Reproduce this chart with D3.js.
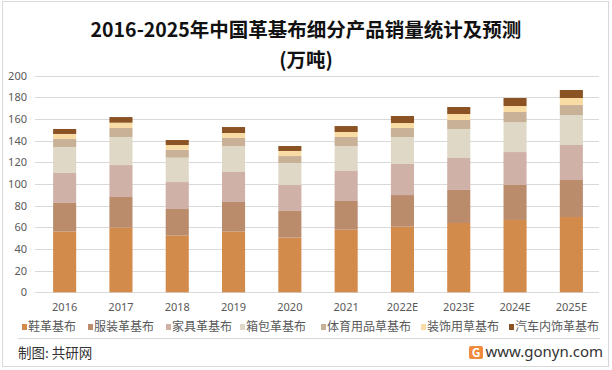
<!DOCTYPE html>
<html>
<head>
<meta charset="utf-8">
<script src="https://cdn.jsdelivr.net/npm/d3@7"></script>
<style>
  body { margin: 0; background: #fff; }
  svg { display: block; font-family: "Noto Sans CJK SC", "Noto Sans", sans-serif; }
</style>
</head>
<body>
<svg id="chart" width="612" height="370"></svg>
<script>
// categories and series
const years = ["2016", "2017", "2018", "2019", "2020", "2021", "2022E", "2023E", "2024E", "2025E"];
const seriesNames = ["鞋革基布", "服装革基布", "家具革基布", "箱包革基布", "体育用品草基布", "装饰用草基布", "汽车内饰革基布"];
const shoe      = [56.0, 59.7, 52.3, 56.0, 50.5, 57.8, 60.6, 64.0, 66.8, 69.5];
const clothing  = [26.5, 28.3, 24.6, 27.4, 24.6, 26.5, 29.2, 30.5, 32.3, 34.2];
const furniture = [27.7, 29.5, 24.9, 27.7, 24.0, 27.7, 28.7, 29.5, 30.4, 32.3];
const bags      = [24.0, 25.9, 22.5, 24.0, 20.3, 23.1, 24.9, 26.8, 27.7, 27.7];
const sports    = [7.3, 8.3, 7.4, 7.4, 6.4, 8.3, 8.3, 8.3, 9.3, 9.2];
const decor     = [4.7, 4.9, 4.3, 4.6, 4.7, 4.6, 4.6, 5.5, 5.5, 6.5];
const auto      = [4.6, 5.2, 4.6, 5.5, 4.6, 5.5, 6.5, 6.5, 7.4, 7.4];
const yTicks = [0, 20, 40, 60, 80, 100, 120, 140, 160, 180, 200];
const colors = ["#D38B4C", "#BA8C6C", "#D0B1A7", "#DFD8C6", "#C8B196", "#F9DCA5", "#8B5224"];

const seriesValues = [shoe, clothing, furniture, bags, sports, decor, auto];
const table = years.map((y, i) => {
  const row = { year: y };
  seriesNames.forEach((n, k) => row[n] = seriesValues[k][i]);
  return row;
});

const svg = d3.select("#chart");

// outer frame
svg.append("rect").attr("x", 2.5).attr("y", 1.5).attr("width", 606).attr("height", 365)
  .attr("fill", "#fff").attr("stroke", "#d9d9d9");

// title
svg.append("text").attr("x", 306).attr("y", 37).attr("text-anchor", "middle")
  .attr("font-size", 19.5).attr("font-weight", "bold").attr("fill", "#111")
  .text("2016-2025年中国革基布细分产品销量统计及预测");
svg.append("text").attr("x", 306).attr("y", 67).attr("text-anchor", "middle")
  .attr("font-size", 19.5).attr("font-weight", "bold").attr("fill", "#111")
  .text("(万吨)");

const x = d3.scaleBand().domain(years).range([36.5, 599.5]).paddingInner(0.59).paddingOuter(0.295);
const y = d3.scaleLinear().domain([0, 200]).range([292.3, 75.7]);

// grid
const grid = svg.append("g");
grid.selectAll("line").data(yTicks).join("line")
  .attr("x1", 35).attr("x2", 599)
  .attr("y1", d => Math.round(y(d)) + 0.5).attr("y2", d => Math.round(y(d)) + 0.5)
  .attr("stroke", "#d9d9d9").attr("stroke-width", 1);

// y axis labels
const yAxis = svg.append("g").attr("transform", "translate(27,0)")
  .call(d3.axisLeft(y).tickValues(yTicks).tickSize(0).tickPadding(0));
yAxis.select(".domain").remove();
yAxis.selectAll("text").attr("font-size", 11).attr("fill", "#595959")
  .attr("font-family", "'Noto Sans', sans-serif");

// x axis labels
const xAxis = svg.append("g").attr("transform", "translate(0,301)")
  .call(d3.axisBottom(x).tickSize(0).tickPadding(2));
xAxis.select(".domain").remove();
xAxis.selectAll("text").attr("font-size", 11).attr("fill", "#595959")
  .attr("font-family", "'Noto Sans', sans-serif");

// stacked bars
const stack = d3.stack().keys(seriesNames)(table);
svg.append("g").selectAll("g").data(stack).join("g")
  .attr("fill", (d, i) => colors[i])
  .selectAll("rect").data(d => d).join("rect")
  .attr("x", d => x(d.data.year))
  .attr("width", x.bandwidth())
  .attr("y", d => y(d[1]))
  .attr("height", d => y(d[0]) - y(d[1]));

// legend
const legendX = [22, 88, 166, 240, 321, 421, 509];
const lg = svg.append("g").selectAll("g").data(seriesNames).join("g")
  .attr("transform", (d, i) => `translate(${legendX[i]},327)`);
lg.append("rect").attr("x", 0).attr("y", -3).attr("width", 5).attr("height", 6)
  .attr("fill", (d, i) => colors[i]);
lg.append("text").attr("x", 6).attr("y", 0).attr("dy", "0.35em")
  .attr("font-size", 12).attr("fill", "#595959").text(d => d);

// separator
svg.append("line").attr("x1", 18).attr("x2", 600).attr("y1", 338.5).attr("y2", 338.5)
  .attr("stroke", "#d9d9d9");

// footer
svg.append("text").attr("x", 18).attr("y", 358).attr("font-size", 13.5).attr("fill", "#333")
  .text("制图: 共研网");
const logo = svg.append("g").attr("transform", "translate(469,346)");
logo.append("rect").attr("width", 14).attr("height", 13).attr("rx", 2).attr("fill", "#F08A3C");
logo.append("text").attr("x", 7).attr("y", 11).attr("text-anchor", "middle")
  .attr("font-size", 12).attr("font-weight", "bold").attr("fill", "#fff").text("G");
svg.append("text").attr("x", 603).attr("y", 357).attr("text-anchor", "end")
  .attr("font-size", 15).attr("fill", "#333").attr("font-family", "'Noto Sans', sans-serif")
  .text("www.gonyn.com");
</script>
</body>
</html>
